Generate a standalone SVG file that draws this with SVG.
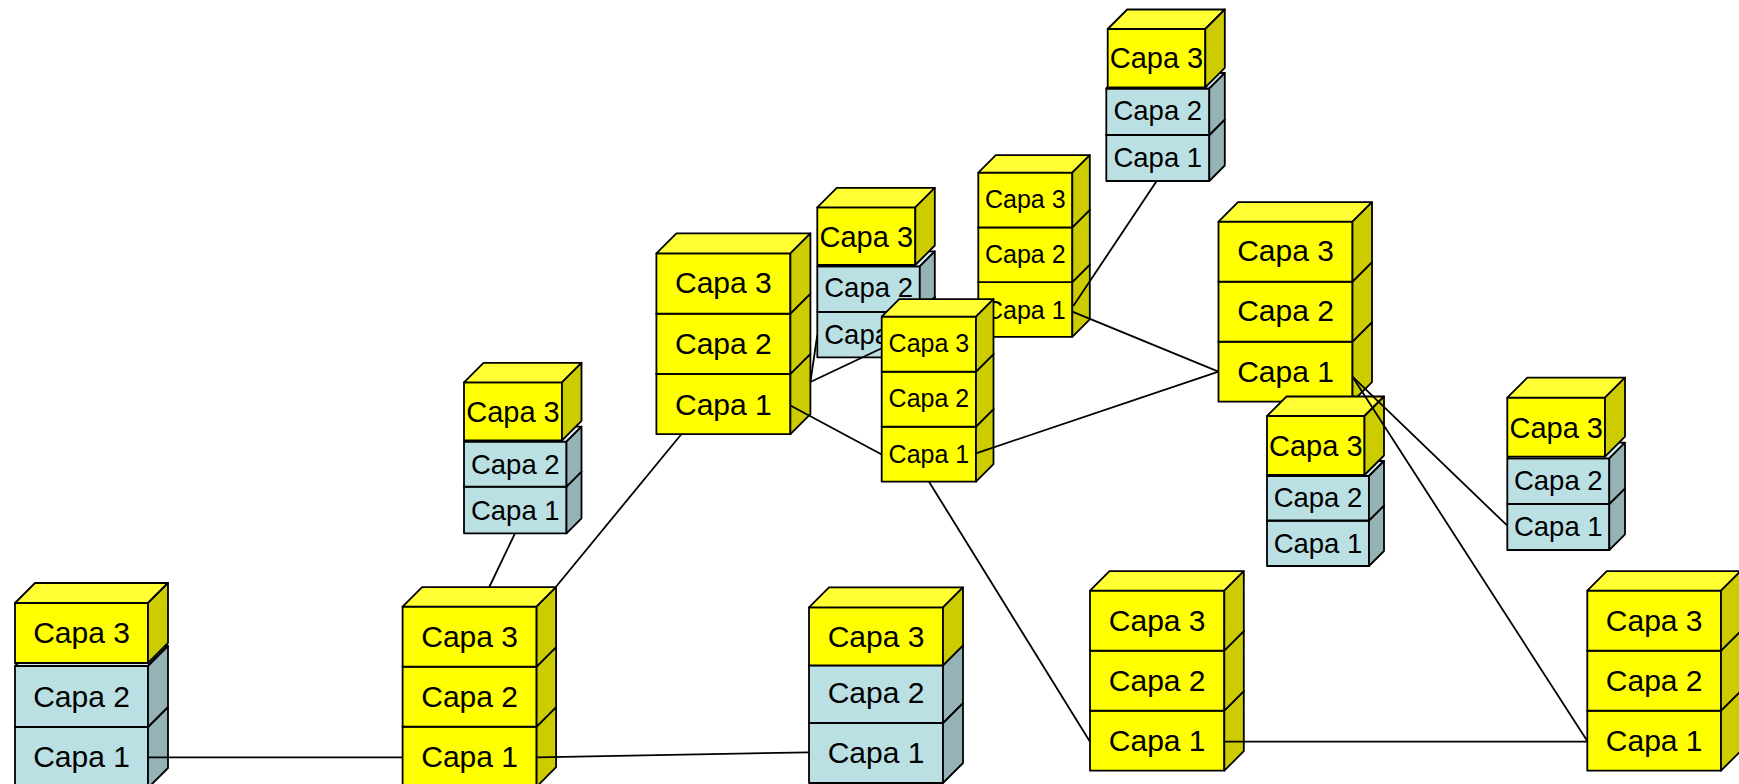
<svg xmlns="http://www.w3.org/2000/svg" width="1739" height="784" viewBox="0 0 1739 784">
<style>
.node rect,.node path{stroke:#000;stroke-width:1.8;stroke-linejoin:round}
.yf{fill:#FFFF00}.yt{fill:#FFFF33}.ys{fill:#CCCC00}
.bf{fill:#BBE0E3}.bt{fill:#D6EEF0}.bs{fill:#95B3B6}
text{font-family:"Liberation Sans",Arial,sans-serif;text-anchor:middle;fill:#000}
.t30{font-size:30px}.t29{font-size:29px}.t27{font-size:27.5px}.t25{font-size:25px}
.conn line{stroke:#000;stroke-width:1.8;fill:none}
</style>
<rect width="1739" height="784" fill="#fff"/>

<g id="stackA" class="node">
<rect class="bf" x="15" y="727" width="133" height="61"/>
<path class="bt" d="M15,727 L35,707 L168,707 L148,727 Z"/>
<path class="bs" d="M148,727 L168,707 L168,768 L148,788 Z"/>
<rect class="bf" x="15" y="666" width="133" height="61"/>
<path class="bt" d="M15,666 L35,646 L168,646 L148,666 Z"/>
<path class="bs" d="M148,666 L168,646 L168,707 L148,727 Z"/>
<rect class="yf" x="15" y="603" width="133" height="60"/>
<path class="yt" d="M15,603 L35,583 L168,583 L148,603 Z"/>
<path class="ys" d="M148,603 L168,583 L168,643 L148,663 Z"/>
<text class="t30" x="81.5" y="642.7">Capa 3</text>
<text class="t30" x="81.5" y="706.7">Capa 2</text>
<text class="t30" x="81.5" y="767">Capa 1</text>
</g>

<g id="stackB" class="node">
<rect class="yf" x="402.6" y="726.7" width="134" height="60"/>
<path class="yt" d="M402.6,726.7 L422.1,707.2 L556.1,707.2 L536.6,726.7 Z"/>
<path class="ys" d="M536.6,726.7 L556.1,707.2 L556.1,767.2 L536.6,786.7 Z"/>
<rect class="yf" x="402.6" y="666.7" width="134" height="60"/>
<path class="yt" d="M402.6,666.7 L422.1,647.2 L556.1,647.2 L536.6,666.7 Z"/>
<path class="ys" d="M536.6,666.7 L556.1,647.2 L556.1,707.2 L536.6,726.7 Z"/>
<rect class="yf" x="402.6" y="606.7" width="134" height="60"/>
<path class="yt" d="M402.6,606.7 L422.1,587.2 L556.1,587.2 L536.6,606.7 Z"/>
<path class="ys" d="M536.6,606.7 L556.1,587.2 L556.1,647.2 L536.6,666.7 Z"/>
<text class="t30" x="469.6" y="646.7">Capa 3</text>
<text class="t30" x="469.6" y="706.7">Capa 2</text>
<text class="t30" x="469.6" y="766.7">Capa 1</text>
</g>

<g id="stackC" class="node">
<rect class="bf" x="464" y="486.7" width="102.5" height="46.6"/>
<path class="bt" d="M464,486.7 L479,471.7 L581.5,471.7 L566.5,486.7 Z"/>
<path class="bs" d="M566.5,486.7 L581.5,471.7 L581.5,518.3 L566.5,533.3 Z"/>
<rect class="bf" x="464" y="441.7" width="102.5" height="45"/>
<path class="bt" d="M464,441.7 L479,426.7 L581.5,426.7 L566.5,441.7 Z"/>
<path class="bs" d="M566.5,441.7 L581.5,426.7 L581.5,471.7 L566.5,486.7 Z"/>
<rect class="yf" x="464" y="382.3" width="98" height="58"/>
<path class="yt" d="M464,382.3 L483.5,362.8 L581.5,362.8 L562,382.3 Z"/>
<path class="ys" d="M562,382.3 L581.5,362.8 L581.5,420.8 L562,440.3 Z"/>
<text class="t29" x="513" y="422.3">Capa 3</text>
<text class="t27" x="515.3" y="474">Capa 2</text>
<text class="t27" x="515.3" y="520">Capa 1</text>
</g>

<g id="stackL" class="node">
<rect class="bf" x="809" y="723" width="134" height="60"/>
<path class="bt" d="M809,723 L829,703 L963,703 L943,723 Z"/>
<path class="bs" d="M943,723 L963,703 L963,763 L943,783 Z"/>
<rect class="bf" x="809" y="665.3" width="134" height="57.7"/>
<path class="bt" d="M809,665.3 L829,645.3 L963,645.3 L943,665.3 Z"/>
<path class="bs" d="M943,665.3 L963,645.3 L963,703 L943,723 Z"/>
<rect class="yf" x="809" y="607.3" width="134" height="58"/>
<path class="yt" d="M809,607.3 L829,587.3 L963,587.3 L943,607.3 Z"/>
<path class="ys" d="M943,607.3 L963,587.3 L963,645.3 L943,665.3 Z"/>
<text class="t30" x="876" y="647.3">Capa 3</text>
<text class="t30" x="876" y="703.3">Capa 2</text>
<text class="t30" x="876" y="763.3">Capa 1</text>
</g>

<g id="stackD" class="node">
<rect class="yf" x="656.4" y="373.9" width="134" height="60.3"/>
<path class="yt" d="M656.4,373.9 L676.4,353.9 L810.4,353.9 L790.4,373.9 Z"/>
<path class="ys" d="M790.4,373.9 L810.4,353.9 L810.4,414.2 L790.4,434.2 Z"/>
<rect class="yf" x="656.4" y="313.6" width="134" height="60.3"/>
<path class="yt" d="M656.4,313.6 L676.4,293.6 L810.4,293.6 L790.4,313.6 Z"/>
<path class="ys" d="M790.4,313.6 L810.4,293.6 L810.4,353.9 L790.4,373.9 Z"/>
<rect class="yf" x="656.4" y="253.3" width="134" height="60.3"/>
<path class="yt" d="M656.4,253.3 L676.4,233.3 L810.4,233.3 L790.4,253.3 Z"/>
<path class="ys" d="M790.4,253.3 L810.4,233.3 L810.4,293.6 L790.4,313.6 Z"/>
<text class="t30" x="723.4" y="293">Capa 3</text>
<text class="t30" x="723.4" y="354">Capa 2</text>
<text class="t30" x="723.4" y="414.5">Capa 1</text>
</g>

<g id="stackE" class="node">
<rect class="bf" x="817.3" y="311.8" width="102.5" height="45.5"/>
<path class="bt" d="M817.3,311.8 L832.3,296.8 L934.8,296.8 L919.8,311.8 Z"/>
<path class="bs" d="M919.8,311.8 L934.8,296.8 L934.8,342.3 L919.8,357.3 Z"/>
<rect class="bf" x="817.3" y="266.3" width="102.5" height="45.5"/>
<path class="bt" d="M817.3,266.3 L832.3,251.3 L934.8,251.3 L919.8,266.3 Z"/>
<path class="bs" d="M919.8,266.3 L934.8,251.3 L934.8,296.8 L919.8,311.8 Z"/>
<rect class="yf" x="817.3" y="207.3" width="98" height="57.7"/>
<path class="yt" d="M817.3,207.3 L836.8,187.8 L934.8,187.8 L915.3,207.3 Z"/>
<path class="ys" d="M915.3,207.3 L934.8,187.8 L934.8,245.5 L915.3,265 Z"/>
<text class="t29" x="866.3" y="246.7">Capa 3</text>
<text class="t27" x="868.6" y="296.7">Capa 2</text>
<text class="t27" x="868.6" y="344">Capa 1</text>
</g>

<g id="stackG" class="node">
<rect class="yf" x="978.3" y="282.1" width="94" height="54.7"/>
<path class="yt" d="M978.3,282.1 L995.8,264.6 L1089.8,264.6 L1072.3,282.1 Z"/>
<path class="ys" d="M1072.3,282.1 L1089.8,264.6 L1089.8,319.3 L1072.3,336.8 Z"/>
<rect class="yf" x="978.3" y="227.4" width="94" height="54.7"/>
<path class="yt" d="M978.3,227.4 L995.8,209.9 L1089.8,209.9 L1072.3,227.4 Z"/>
<path class="ys" d="M1072.3,227.4 L1089.8,209.9 L1089.8,264.6 L1072.3,282.1 Z"/>
<rect class="yf" x="978.3" y="172.7" width="94" height="54.7"/>
<path class="yt" d="M978.3,172.7 L995.8,155.2 L1089.8,155.2 L1072.3,172.7 Z"/>
<path class="ys" d="M1072.3,172.7 L1089.8,155.2 L1089.8,209.9 L1072.3,227.4 Z"/>
<text class="t25" x="1025.3" y="207.8">Capa 3</text>
<text class="t25" x="1025.3" y="262.7">Capa 2</text>
<text class="t25" x="1025.3" y="319">Capa 1</text>
</g>

<g id="stackH" class="node">
<rect class="bf" x="1106.3" y="135" width="103" height="46"/>
<path class="bt" d="M1106.3,135 L1121.8,119.5 L1224.8,119.5 L1209.3,135 Z"/>
<path class="bs" d="M1209.3,135 L1224.8,119.5 L1224.8,165.5 L1209.3,181 Z"/>
<rect class="bf" x="1106.3" y="88.5" width="103" height="46.5"/>
<path class="bt" d="M1106.3,88.5 L1121.8,73 L1224.8,73 L1209.3,88.5 Z"/>
<path class="bs" d="M1209.3,88.5 L1224.8,73 L1224.8,119.5 L1209.3,135 Z"/>
<rect class="yf" x="1107.7" y="29" width="97.6" height="58.3"/>
<path class="yt" d="M1107.7,29 L1127.2,9.5 L1224.8,9.5 L1205.3,29 Z"/>
<path class="ys" d="M1205.3,29 L1224.8,9.5 L1224.8,67.8 L1205.3,87.3 Z"/>
<text class="t29" x="1156.5" y="68.3">Capa 3</text>
<text class="t27" x="1157.8" y="120">Capa 2</text>
<text class="t27" x="1157.8" y="166.7">Capa 1</text>
</g>

<g id="stackF" class="node">
<rect class="yf" x="881.7" y="426.7" width="94.3" height="55"/>
<path class="yt" d="M881.7,426.7 L899.2,409.2 L993.5,409.2 L976,426.7 Z"/>
<path class="ys" d="M976,426.7 L993.5,409.2 L993.5,464.2 L976,481.7 Z"/>
<rect class="yf" x="881.7" y="371.7" width="94.3" height="55"/>
<path class="yt" d="M881.7,371.7 L899.2,354.2 L993.5,354.2 L976,371.7 Z"/>
<path class="ys" d="M976,371.7 L993.5,354.2 L993.5,409.2 L976,426.7 Z"/>
<rect class="yf" x="881.7" y="316.7" width="94.3" height="55"/>
<path class="yt" d="M881.7,316.7 L899.2,299.2 L993.5,299.2 L976,316.7 Z"/>
<path class="ys" d="M976,316.7 L993.5,299.2 L993.5,354.2 L976,371.7 Z"/>
<text class="t25" x="928.9" y="352">Capa 3</text>
<text class="t25" x="928.9" y="407">Capa 2</text>
<text class="t25" x="928.9" y="463">Capa 1</text>
</g>

<g id="stackI" class="node">
<rect class="yf" x="1218.5" y="341.7" width="134" height="60"/>
<path class="yt" d="M1218.5,341.7 L1238,322.2 L1372,322.2 L1352.5,341.7 Z"/>
<path class="ys" d="M1352.5,341.7 L1372,322.2 L1372,382.2 L1352.5,401.7 Z"/>
<rect class="yf" x="1218.5" y="281.7" width="134" height="60"/>
<path class="yt" d="M1218.5,281.7 L1238,262.2 L1372,262.2 L1352.5,281.7 Z"/>
<path class="ys" d="M1352.5,281.7 L1372,262.2 L1372,322.2 L1352.5,341.7 Z"/>
<rect class="yf" x="1218.5" y="221.7" width="134" height="60"/>
<path class="yt" d="M1218.5,221.7 L1238,202.2 L1372,202.2 L1352.5,221.7 Z"/>
<path class="ys" d="M1352.5,221.7 L1372,202.2 L1372,262.2 L1352.5,281.7 Z"/>
<text class="t30" x="1285.5" y="260.5">Capa 3</text>
<text class="t30" x="1285.5" y="321">Capa 2</text>
<text class="t30" x="1285.5" y="381.5">Capa 1</text>
</g>

<g id="stackJ" class="node">
<rect class="bf" x="1267" y="520.5" width="102" height="45.5"/>
<path class="bt" d="M1267,520.5 L1282,505.5 L1384,505.5 L1369,520.5 Z"/>
<path class="bs" d="M1369,520.5 L1384,505.5 L1384,551 L1369,566 Z"/>
<rect class="bf" x="1267" y="476" width="102" height="44.5"/>
<path class="bt" d="M1267,476 L1282,461 L1384,461 L1369,476 Z"/>
<path class="bs" d="M1369,476 L1384,461 L1384,505.5 L1369,520.5 Z"/>
<rect class="yf" x="1267" y="416" width="97.5" height="59"/>
<path class="yt" d="M1267,416 L1286.5,396.5 L1384,396.5 L1364.5,416 Z"/>
<path class="ys" d="M1364.5,416 L1384,396.5 L1384,455.5 L1364.5,475 Z"/>
<text class="t29" x="1315.8" y="456">Capa 3</text>
<text class="t27" x="1318" y="506.7">Capa 2</text>
<text class="t27" x="1318" y="552.7">Capa 1</text>
</g>

<g id="stackK" class="node">
<rect class="bf" x="1507.3" y="504" width="102" height="46"/>
<path class="bt" d="M1507.3,504 L1523,488.3 L1625,488.3 L1609.3,504 Z"/>
<path class="bs" d="M1609.3,504 L1625,488.3 L1625,534.3 L1609.3,550 Z"/>
<rect class="bf" x="1507.3" y="458.3" width="102" height="45.7"/>
<path class="bt" d="M1507.3,458.3 L1523,442.6 L1625,442.6 L1609.3,458.3 Z"/>
<path class="bs" d="M1609.3,458.3 L1625,442.6 L1625,488.3 L1609.3,504 Z"/>
<rect class="yf" x="1507.3" y="397.7" width="97.7" height="59"/>
<path class="yt" d="M1507.3,397.7 L1527.3,377.7 L1625,377.7 L1605,397.7 Z"/>
<path class="ys" d="M1605,397.7 L1625,377.7 L1625,436.7 L1605,456.7 Z"/>
<text class="t29" x="1556.2" y="438.3">Capa 3</text>
<text class="t27" x="1558.3" y="490">Capa 2</text>
<text class="t27" x="1558.3" y="535.7">Capa 1</text>
</g>

<g id="stackM" class="node">
<rect class="yf" x="1090" y="710.7" width="134.3" height="60"/>
<path class="yt" d="M1090,710.7 L1109.5,691.2 L1243.8,691.2 L1224.3,710.7 Z"/>
<path class="ys" d="M1224.3,710.7 L1243.8,691.2 L1243.8,751.2 L1224.3,770.7 Z"/>
<rect class="yf" x="1090" y="650.7" width="134.3" height="60"/>
<path class="yt" d="M1090,650.7 L1109.5,631.2 L1243.8,631.2 L1224.3,650.7 Z"/>
<path class="ys" d="M1224.3,650.7 L1243.8,631.2 L1243.8,691.2 L1224.3,710.7 Z"/>
<rect class="yf" x="1090" y="590.7" width="134.3" height="60"/>
<path class="yt" d="M1090,590.7 L1109.5,571.2 L1243.8,571.2 L1224.3,590.7 Z"/>
<path class="ys" d="M1224.3,590.7 L1243.8,571.2 L1243.8,631.2 L1224.3,650.7 Z"/>
<text class="t30" x="1157.2" y="630.5">Capa 3</text>
<text class="t30" x="1157.2" y="690.5">Capa 2</text>
<text class="t30" x="1157.2" y="751">Capa 1</text>
</g>

<g id="stackN" class="node">
<rect class="yf" x="1587.3" y="710.7" width="133.7" height="60"/>
<path class="yt" d="M1587.3,710.7 L1606.8,691.2 L1740.5,691.2 L1721,710.7 Z"/>
<path class="ys" d="M1721,710.7 L1740.5,691.2 L1740.5,751.2 L1721,770.7 Z"/>
<rect class="yf" x="1587.3" y="650.7" width="133.7" height="60"/>
<path class="yt" d="M1587.3,650.7 L1606.8,631.2 L1740.5,631.2 L1721,650.7 Z"/>
<path class="ys" d="M1721,650.7 L1740.5,631.2 L1740.5,691.2 L1721,710.7 Z"/>
<rect class="yf" x="1587.3" y="590.7" width="133.7" height="60"/>
<path class="yt" d="M1587.3,590.7 L1606.8,571.2 L1740.5,571.2 L1721,590.7 Z"/>
<path class="ys" d="M1721,590.7 L1740.5,571.2 L1740.5,631.2 L1721,650.7 Z"/>
<text class="t30" x="1654.2" y="630.5">Capa 3</text>
<text class="t30" x="1654.2" y="690.5">Capa 2</text>
<text class="t30" x="1654.2" y="751">Capa 1</text>
</g>

<g id="connectors" class="conn">
<line x1="148.5" y1="757.3" x2="402.6" y2="757.3"/>
<line x1="536.6" y1="757.3" x2="809" y2="752.3"/>
<line x1="489.3" y1="587" x2="515" y2="533.3"/>
<line x1="555" y1="588" x2="681.3" y2="434.2"/>
<line x1="810.4" y1="382" x2="817.3" y2="335"/>
<line x1="810.4" y1="382" x2="881.7" y2="348.3"/>
<line x1="790.4" y1="405.5" x2="881.7" y2="454.5"/>
<line x1="929" y1="481.7" x2="1090" y2="741.7"/>
<line x1="976" y1="453.3" x2="1218.5" y2="371.7"/>
<line x1="1072.3" y1="311.7" x2="1218.5" y2="371.7"/>
<line x1="1156.7" y1="181" x2="1073.3" y2="306"/>
<line x1="1352.5" y1="376.7" x2="1507.3" y2="525.7"/>
<line x1="1352.5" y1="376.7" x2="1587.3" y2="741"/>
<line x1="1224.3" y1="741.7" x2="1587.3" y2="741.7"/>
</g>
</svg>
